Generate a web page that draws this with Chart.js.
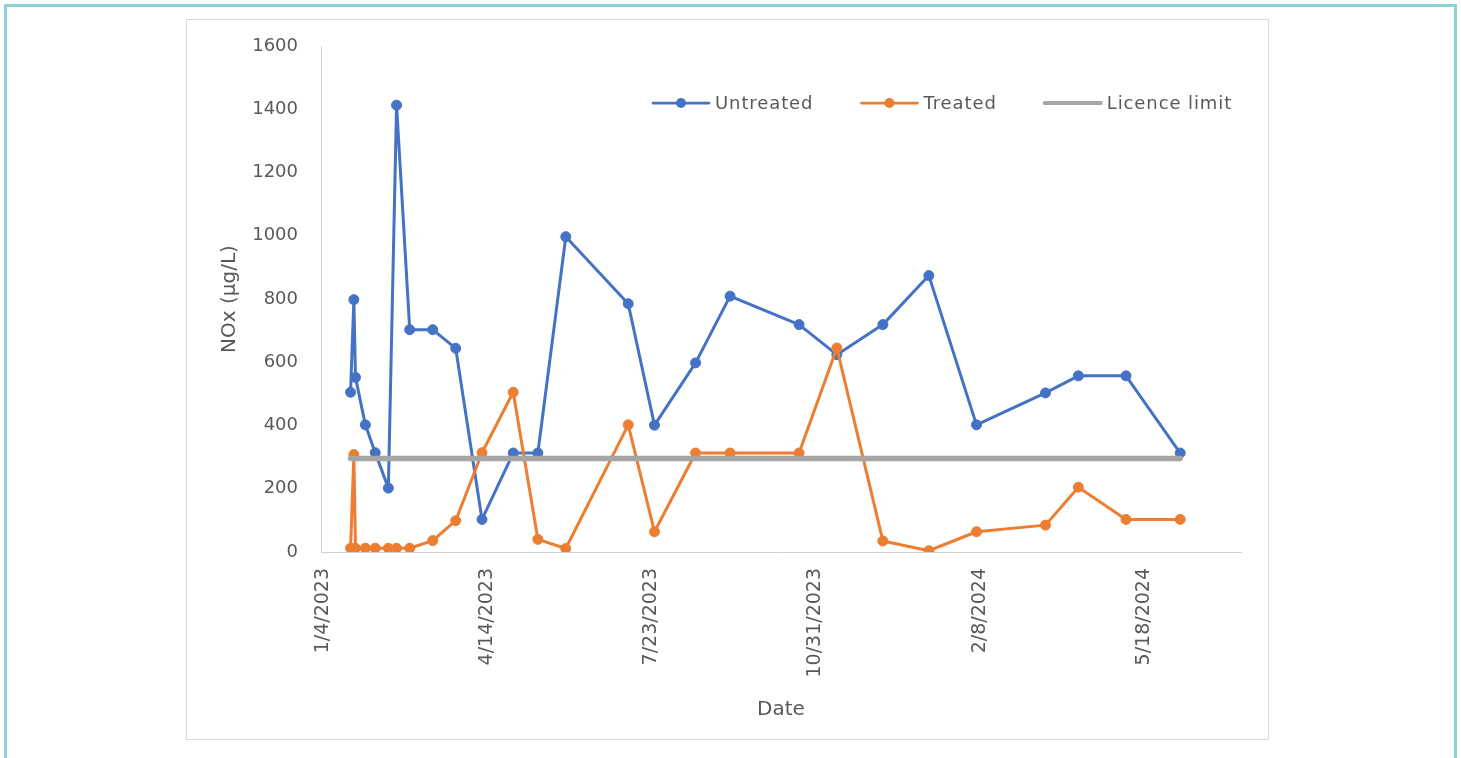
<!DOCTYPE html>
<html>
<head>
<meta charset="utf-8">
<script src="https://cdn.jsdelivr.net/npm/chart.js@4.4.0/dist/chart.umd.min.js"></script>
<style>
  html, body { margin:0; padding:0; background:#fff; overflow:hidden; }
  .frame { position:absolute; left:4px; top:4px; width:1447px; height:800px; border:3px solid #8ed1d5; }
  .box { position:absolute; left:186px; top:19px; width:1081px; height:719px; border:1px solid #d9d9d9; }
  canvas { display:block; }
</style>
</head>
<body>
<div class="frame"></div>
<div class="box"><canvas id="noxChart" width="1081" height="719"></canvas></div>
<script>
// sample dates (yyyy-mm-dd) and readings in µg/L
var sampleDates = ['2023-01-21','2023-01-23','2023-01-24','2023-01-30','2023-02-05','2023-02-13','2023-02-18',
  '2023-02-26','2023-03-12','2023-03-26','2023-04-11','2023-04-30','2023-05-15','2023-06-01','2023-07-09',
  '2023-07-25','2023-08-19','2023-09-09','2023-10-21','2023-11-13','2023-12-11','2024-01-08','2024-02-06',
  '2024-03-19','2024-04-08','2024-05-07','2024-06-09'];
var untreated = [505,798,552,402,314,202,1413,703,703,644,103,313,313,997,785,401,598,809,719,624,719,874,402,503,557,557,313];
var treated = [12,308,12,12,12,12,12,12,36,99,314,505,40,11,402,64,313,313,313,645,35,4,64,85,205,103,103];
var limitDates = ['2023-01-21','2024-06-09'];
var licenceLimit = [296,296];
var xTickLabels = ['1/4/2023','4/14/2023','7/23/2023','10/31/2023','2/8/2024','5/18/2024'];

function isoDay(s){
  var p = s.split('-');
  return Date.UTC(+p[0], p[1]-1, +p[2]) / 86400000;
}
function usDay(s){
  var p = s.split('/');
  return Date.UTC(+p[2], p[0]-1, +p[1]) / 86400000;
}
function pts(dates, vals){
  return dates.map(function(d, i){ return {x: isoDay(d), y: vals[i]}; });
}
var tickDays = xTickLabels.map(usDay);

Chart.defaults.font.family = '"DejaVu Sans", sans-serif';
Chart.defaults.color = '#595959';

var legendPlugin = {
  id: 'excelLegend',
  afterDraw: function(chart){
    var c = chart.ctx;
    var x = 466, y = 83;
    c.save();
    c.font = '18px "DejaVu Sans"';
    c.letterSpacing = '0.9px';
    c.textBaseline = 'middle';
    c.lineCap = 'round';
    chart.data.datasets.forEach(function(ds){
      c.strokeStyle = ds.borderColor;
      c.lineWidth = ds.pointRadius ? 2.75 : 4;
      c.beginPath(); c.moveTo(x, y); c.lineTo(x + 56, y); c.stroke();
      if (ds.pointRadius) {
        c.fillStyle = ds.borderColor;
        c.beginPath(); c.arc(x + 28, y, 5, 0, Math.PI * 2); c.fill();
      }
      c.fillStyle = '#595959';
      c.fillText(ds.label, x + 62, y + 1);
      x += 62 + c.measureText(ds.label).width + 48;
    });
    c.restore();
  }
};

var noxChart = new Chart(document.getElementById('noxChart'), {
  type: 'line',
  data: {
    datasets: [{
      label: 'Untreated',
      data: pts(sampleDates, untreated),
      borderColor: '#4472c4',
      backgroundColor: '#4472c4',
      borderWidth: 3,
      pointRadius: 5,
      pointBorderWidth: 1,
      borderJoinStyle: 'round',
      order: 3
    }, {
      label: 'Treated',
      data: pts(sampleDates, treated),
      borderColor: '#ed7d31',
      backgroundColor: '#ed7d31',
      borderWidth: 3,
      pointRadius: 5,
      pointBorderWidth: 1,
      borderJoinStyle: 'round',
      order: 2
    }, {
      label: 'Licence limit',
      data: pts(limitDates, licenceLimit),
      borderColor: '#a5a5a5',
      backgroundColor: '#a5a5a5',
      borderWidth: 5.5,
      pointRadius: 0,
      borderCapStyle: 'round',
      order: 1
    }]
  },
  options: {
    responsive: false,
    animation: false,
    layout: { padding: { top: 26, right: 27, left: 0, bottom: 0 } },
    plugins: { legend: { display: false }, tooltip: { enabled: false } },
    scales: {
      x: {
        type: 'linear',
        min: tickDays[0] - 1,
        max: tickDays[0] + 559,
        afterBuildTicks: function(s){ s.ticks = tickDays.map(function(v){ return {value: v}; }); },
        afterFit: function(s){ s.height = 187; s.paddingTop = 0; s.paddingBottom = 0; },
        grid: { display: false, drawTicks: false },
        border: { color: '#d0d0d0', width: 1 },
        ticks: {
          autoSkip: false,
          minRotation: 90,
          maxRotation: 90,
          padding: 16,
          font: { size: 19 },
          color: '#595959',
          callback: function(v){ var i = tickDays.indexOf(v); return i >= 0 ? xTickLabels[i] : ''; }
        },
        title: { display: true, text: 'Date', font: { size: 20 }, color: '#595959', padding: { top: 0, bottom: 17 } }
      },
      y: {
        min: 0,
        max: 1600,
        afterFit: function(s){ s.width = 134; s.paddingTop = 0; s.paddingBottom = 0; },
        grid: { display: false, drawTicks: false },
        border: { color: '#d0d0d0', width: 1 },
        ticks: { stepSize: 200, padding: 23, font: { size: 18 }, color: '#595959', callback: function(v){ return String(v); } },
        title: { display: true, text: 'NOx (µg/L)', font: { size: 20 }, color: '#595959', padding: { top: 31, bottom: 0 } }
      }
    }
  },
  plugins: [legendPlugin]
});
</script>
</body>
</html>
